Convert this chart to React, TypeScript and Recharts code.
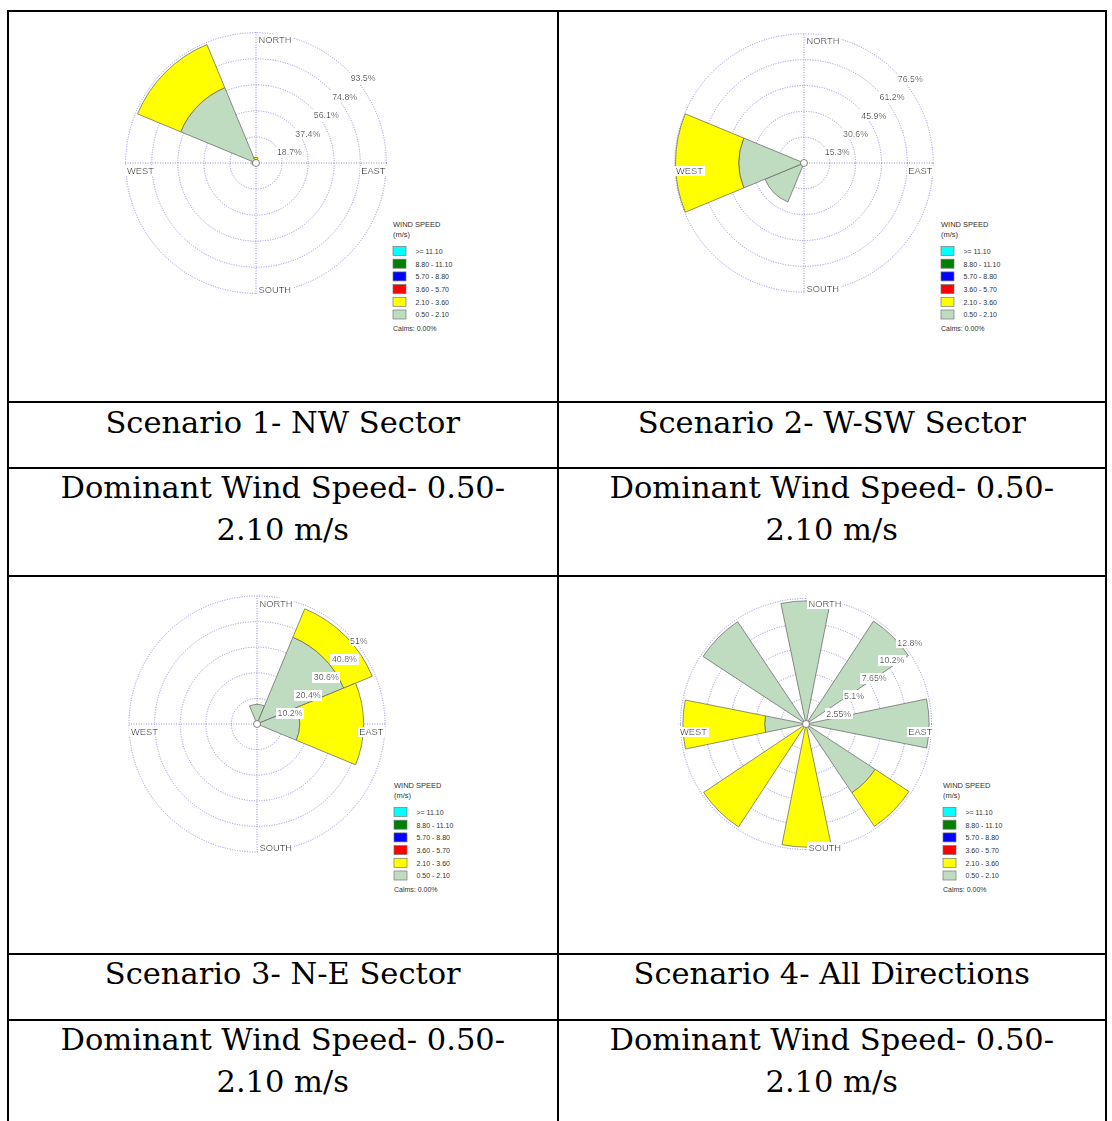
import React from 'react';
import { RadialBarChart, RadialBar, PolarGrid, PolarAngleAxis, PolarRadiusAxis, Cell } from 'recharts';

// direction bins
const DIRS_8 = ['N', 'NE', 'E', 'SE', 'S', 'SW', 'W', 'NW'];
const DIRS_16 = ['N', 'NNE', 'NE', 'ENE', 'E', 'ESE', 'SE', 'SSE', 'S', 'SSW', 'SW', 'WSW', 'W', 'WNW', 'NW', 'NNW'];

// legend classes (top to bottom)
const SPEED_CLASSES = ['>= 11.10', '8.80 - 11.10', '5.70 - 8.80', '3.60 - 5.70', '2.10 - 3.60', '0.50 - 2.10'];
const SPEED_COLORS = ['#00ffff', '#008000', '#0000ff', '#ff0000', '#ffff00', '#c0dcc0'];

// % frequency per direction, 0.50-2.10 and 2.10-3.60 m/s
const s1Low = [2.5, 0, 0, 0, 0, 0, 3, 58.5];
const s1Mid = [1.5, 0, 0, 0, 0, 0, 0, 33.5];
const s1Ticks = [18.7, 37.4, 56.1, 74.8, 93.5];
const s1TickLabels = ['18.7%', '37.4%', '56.1%', '74.8%', '93.5%'];

const s2Low = [0, 0, 0, 0, 0, 25, 38.6, 0];
const s2Mid = [0, 0, 0, 0, 0, 0, 37.5, 0];
const s2Ticks = [15.3, 30.6, 45.9, 61.2, 76.5];
const s2TickLabels = ['15.3%', '30.6%', '45.9%', '61.2%', '76.5%'];

const s3Low = [7.8, 37.4, 17, 0, 0, 0, 0, 0];
const s3Mid = [0, 12.3, 25.5, 0, 0, 0, 0, 0];
const s3Ticks = [10.2, 20.4, 30.6, 40.8, 51];
const s3TickLabels = ['10.2%', '20.4%', '30.6%', '40.8%', '51%'];

const s4Low = [12.5, 0, 12.5, 0, 12.5, 0, 8.4, 0, 0, 0, 0, 0, 4.2, 0, 12.5, 0];
const s4Mid = [0, 0, 0, 0, 0, 0, 4.1, 0, 12.5, 0, 12.5, 0, 8.3, 0, 0, 0];
const s4Ticks = [2.55, 5.1, 7.65, 10.2, 12.75];
const s4TickLabels = ['2.55%', '5.1%', '7.65%', '10.2%', '12.8%'];

const TITLES = ['Scenario 1- NW Sector', 'Scenario 2- W-SW Sector', 'Scenario 3- N-E Sector', 'Scenario 4- All Directions'];
const SPEED_LINE_1 = 'Dominant Wind Speed- 0.50-';
const SPEED_LINE_2 = '2.10 m/s';

const BOX_W = 360;
const BOX_H = 330;
const CX = 150;
const CY = 150;
const LABEL_FONT = 'Arial, "Liberation Sans", sans-serif';
const EDGE = '#5f5f5f';

const RingTick = (props: any) => {
  const { x, y, payload, ticks, labels, fid } = props;
  const i = ticks.indexOf(payload.value);
  if (i < 0) return null;
  return (
    <text x={x + 2.5} y={y + 10.5} fontSize={8.8} fontFamily={LABEL_FONT} fill="#222" filter={`url(#${fid})`}>
      {labels[i]}
    </text>
  );
};

interface RoseProps {
  id: string;
  dirs: string[];
  low: number[];
  mid: number[];
  ticks: number[];
  labels: string[];
  cx: number;
  cy: number;
  r: number;
}

const WindRose: React.FC<RoseProps> = ({ id, dirs, low, mid, ticks, labels, cx, cy, r }) => {
  const data = dirs.map((d, i) => ({ dir: d, low: low[i], mid: mid[i] }));
  const band = 360 / dirs.length;
  // recharts puts the first band on the counter-clockwise side of startAngle
  const start = 90 - band / 2;
  const fid = `wbg-${id}`;
  const lx = CX + 137;
  const ly = CY + 61;

  return (
    <div style={{ position: 'absolute', left: cx - CX, top: cy - CY, width: BOX_W, height: BOX_H }}>
      <svg width={0} height={0} style={{ position: 'absolute' }}>
        <defs>
          <filter id={fid} x="-0.04" y="0" width="1.08" height="1">
            <feFlood floodColor="#ffffff" />
            <feMerge>
              <feMergeNode />
              <feMergeNode in="SourceGraphic" />
            </feMerge>
          </filter>
        </defs>
      </svg>
      <RadialBarChart
        width={BOX_W}
        height={BOX_H}
        cx={CX}
        cy={CY}
        innerRadius={0}
        outerRadius={r}
        data={data}
        layout="centric"
        startAngle={start}
        endAngle={start - 360}
        barCategoryGap={0}
        barGap={0}
        margin={{ top: 0, right: 0, bottom: 0, left: 0 }}
      >
        <PolarGrid gridType="circle" polarAngles={[0, 90, 180, 270]} stroke="#7474d4" strokeDasharray="1 1.5" strokeWidth={0.8} />
        <PolarAngleAxis type="category" dataKey="dir" tick={false} axisLine={false} tickLine={false} />
        <RadialBar dataKey="low" stackId="w" fill="#c0dcc0" strokeWidth={0.7} isAnimationActive={false}>
          {data.map((d) => (
            <Cell key={d.dir} stroke={d.low > 0 ? EDGE : 'none'} />
          ))}
        </RadialBar>
        <RadialBar dataKey="mid" stackId="w" fill="#ffff00" strokeWidth={0.7} isAnimationActive={false}>
          {data.map((d) => (
            <Cell key={d.dir} stroke={d.mid > 0 ? EDGE : 'none'} />
          ))}
        </RadialBar>
        <PolarRadiusAxis
          type="number"
          angle={45}
          domain={[0, ticks[ticks.length - 1]]}
          ticks={ticks}
          axisLine={false}
          tickLine={false}
          tick={(p: any) => <RingTick {...p} ticks={ticks} labels={labels} fid={fid} />}
        />
      </RadialBarChart>

      <svg width={BOX_W} height={BOX_H} style={{ position: 'absolute', left: 0, top: 0, pointerEvents: 'none' }}>
        <circle cx={CX} cy={CY} r={3.5} fill="#fff" stroke="#666" strokeWidth={0.8} />
        <g fontFamily={LABEL_FONT} fontSize={9.3} fill="#1a1a1a">
          <text x={CX + 2.5} y={CY - r + 10.9} filter={`url(#${fid})`}>NORTH</text>
          <text x={CX + 2.5} y={CY + r - 1.3} filter={`url(#${fid})`}>SOUTH</text>
          <text x={CX - r + 2} y={CY + 11} filter={`url(#${fid})`}>WEST</text>
          <text x={CX + r - 1.5} y={CY + 11} textAnchor="end" filter={`url(#${fid})`}>EAST</text>
        </g>
        <g fontFamily={LABEL_FONT} fill="#333">
          <text x={lx} y={ly + 2.7} fontSize={7.5}>WIND SPEED</text>
          <text x={lx} y={ly + 12.5} fontSize={7.5}>(m/s)</text>
          {SPEED_CLASSES.map((c, i) => (
            <g key={c}>
              <rect x={lx} y={ly + 22.5 + i * 12.7} width={13} height={9} fill={SPEED_COLORS[i]} stroke="#777" strokeWidth={0.7} />
              <text x={lx + 22.5} y={ly + 29.8 + i * 12.7} fontSize={7}>{c}</text>
            </g>
          ))}
          <text x={lx} y={ly + 107} fontSize={7}>Calms: 0.00%</text>
        </g>
      </svg>
    </div>
  );
};

const line = (left: number, top: number, width: number, height: number) => (
  <div style={{ position: 'absolute', left, top, width, height, background: '#000' }} />
);

const cellText = (left: number, top: number, width: number, lines: string[]) => (
  <div
    style={{
      position: 'absolute',
      left,
      top,
      width,
      textAlign: 'center',
      fontFamily: '"DejaVu Serif", serif',
      fontSize: 30.5,
      lineHeight: '42px',
      color: '#000',
      whiteSpace: 'nowrap',
    }}
  >
    {lines.map((t, i) => (
      <div key={i}>{t}</div>
    ))}
  </div>
);

export default function App() {
  const L = 8;
  const M = 557.5;
  const R = 1106;
  return (
    <div style={{ position: 'absolute', left: 0, top: 0, width: 1112, height: 1121, background: '#fff', overflow: 'hidden' }}>
      <WindRose id="a" dirs={DIRS_8} low={s1Low} mid={s1Mid} ticks={s1Ticks} labels={s1TickLabels} cx={256} cy={162.5} r={131} />
      <WindRose id="b" dirs={DIRS_8} low={s2Low} mid={s2Mid} ticks={s2Ticks} labels={s2TickLabels} cx={804} cy={162.5} r={130} />
      <WindRose id="c" dirs={DIRS_8} low={s3Low} mid={s3Mid} ticks={s3Ticks} labels={s3TickLabels} cx={257} cy={723.5} r={128} />
      <WindRose id="d" dirs={DIRS_16} low={s4Low} mid={s4Mid} ticks={s4Ticks} labels={s4TickLabels} cx={805.5} cy={723.5} r={128} />

      {cellText(L, 402, M - L, [TITLES[0]])}
      {cellText(M, 402, R - M, [TITLES[1]])}
      {cellText(L, 467, M - L, [SPEED_LINE_1, SPEED_LINE_2])}
      {cellText(M, 467, R - M, [SPEED_LINE_1, SPEED_LINE_2])}
      {cellText(L, 953, M - L, [TITLES[2]])}
      {cellText(M, 953, R - M, [TITLES[3]])}
      {cellText(L, 1019, M - L, [SPEED_LINE_1, SPEED_LINE_2])}
      {cellText(M, 1019, R - M, [SPEED_LINE_1, SPEED_LINE_2])}

      {line(L - 1, 10, R - L + 2, 2)}
      {line(L - 1, 401, R - L + 2, 2)}
      {line(L - 1, 466.5, R - L + 2, 2)}
      {line(L - 1, 575, R - L + 2, 2)}
      {line(L - 1, 953, R - L + 2, 2)}
      {line(L - 1, 1018.5, R - L + 2, 2)}
      {line(L - 1, 10, 2, 1111)}
      {line(M - 1, 10, 2, 1111)}
      {line(R - 1, 10, 2, 1111)}
    </div>
  );
}
